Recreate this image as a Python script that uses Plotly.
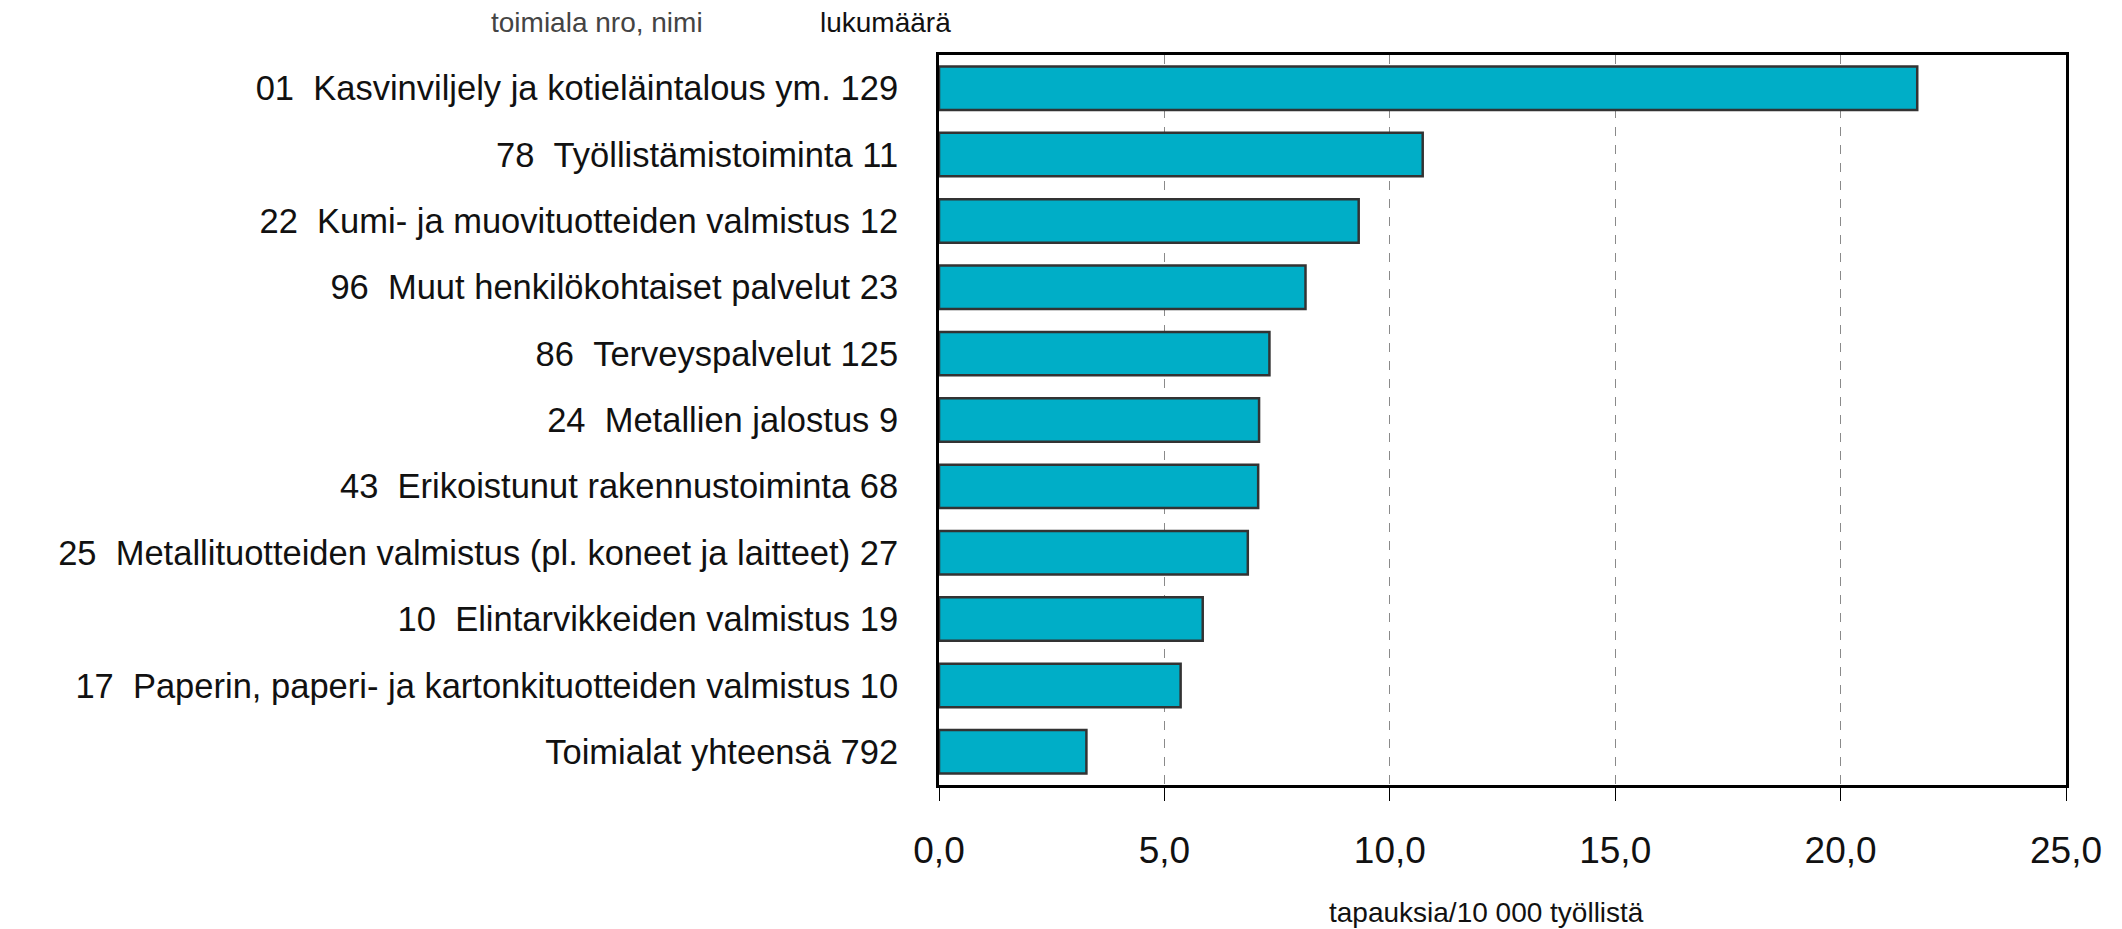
import plotly.graph_objects as go

codes = ["01", "78", "22", "96", "86", "24", "43", "25", "10", "17", ""]
names = [
    "Kasvinviljely ja kotieläintalous ym.",
    "Työllistämistoiminta",
    "Kumi- ja muovituotteiden valmistus",
    "Muut henkilökohtaiset palvelut",
    "Terveyspalvelut",
    "Metallien jalostus",
    "Erikoistunut rakennustoiminta",
    "Metallituotteiden valmistus (pl. koneet ja laitteet)",
    "Elintarvikkeiden valmistus",
    "Paperin, paperi- ja kartonkituotteiden valmistus",
    "Toimialat yhteensä",
]
counts = [129, 11, 12, 23, 125, 9, 68, 27, 19, 10, 792]
rates = [21.7, 10.73, 9.31, 8.13, 7.33, 7.10, 7.08, 6.85, 5.85, 5.36, 3.27]
x_ticks = [0, 5, 10, 15, 20, 25]

labels = []
for c, n, k in zip(codes, names, counts):
    if c:
        labels.append(f"{c}\u00a0\u00a0{n} {k}")
    else:
        labels.append(f"{n} {k}")

FONT = "Liberation Sans, Arial, sans-serif"

W, H = 2122, 929
L, T = 939, 55
PW, PH = 1127, 730

fig = go.Figure(
    go.Bar(
        x=rates,
        y=labels,
        orientation="h",
        width=0.655,
        marker=dict(color="#00AEC7", line=dict(color="#333333", width=2.5)),
        hoverinfo="x+y",
    )
)

fig.update_layout(
    width=W,
    height=H,
    margin=dict(l=L, r=W - L - PW, t=T, b=H - T - PH, pad=0),
    paper_bgcolor="white",
    plot_bgcolor="white",
    separators=", ",
    showlegend=False,
    font=dict(family=FONT, color="#111111"),
)

fig.update_xaxes(
    range=[0, 25],
    tickvals=x_ticks,
    tickformat=".1f",
    ticks="outside",
    ticklen=13,
    tickwidth=1,
    tickcolor="black",
    tickfont=dict(size=37, color="#111111"),
    ticklabelstandoff=18,
    showgrid=True,
    gridcolor="#8a8a8a",
    gridwidth=1,
    griddash="dash",
    showline=True,
    linecolor="black",
    linewidth=3,
    mirror=True,
    zeroline=False,
)

fig.update_yaxes(
    autorange="reversed",
    tickfont=dict(size=34.5, color="#111111"),
    ticks="",
    ticklabelstandoff=31,
    showline=True,
    linecolor="black",
    linewidth=3,
    mirror=True,
    showgrid=False,
)

fig.add_annotation(
    text="toimiala nro, nimi", xref="paper", yref="paper",
    x=(597 - L) / PW, y=1 + (T - 23) / PH,
    showarrow=False, font=dict(size=28, color="#444444", family=FONT),
    xanchor="center", yanchor="middle",
)
fig.add_annotation(
    text="lukumäärä", xref="paper", yref="paper",
    x=(885 - L) / PW, y=1 + (T - 23) / PH,
    showarrow=False, font=dict(size=28, color="#111111", family=FONT),
    xanchor="center", yanchor="middle",
)
fig.add_annotation(
    text="tapauksia/10 000 työllistä", xref="paper", yref="paper",
    x=(1486 - L) / PW, y=-(912 - (T + PH)) / PH,
    showarrow=False, font=dict(size=28, color="#111111", family=FONT),
    xanchor="center", yanchor="middle",
)

fig.write_html(
    "out.html",
    config={"displayModeBar": False},
    post_script="document.body.style.margin='0';document.body.style.overflow='hidden';",
)
